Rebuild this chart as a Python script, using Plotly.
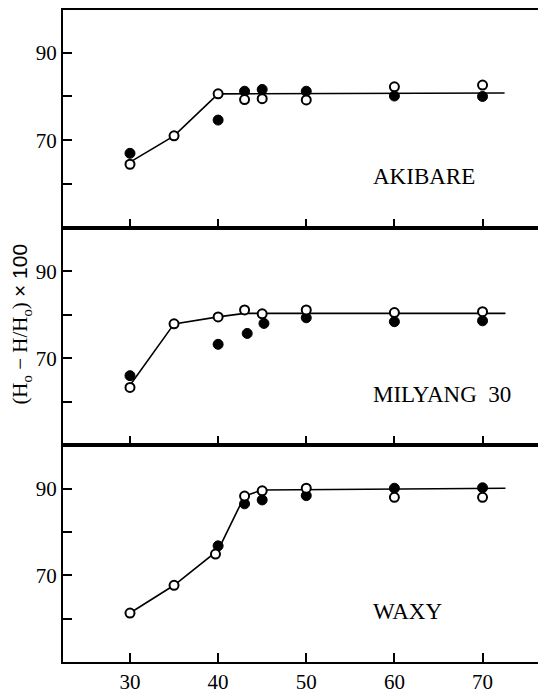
import plotly.graph_objects as go

# ---- data ----
ak_x_open = [30, 35, 40, 43, 45, 50, 60, 70]
ak_y_open = [64.5, 71.0, 80.6, 79.3, 79.5, 79.2, 82.2, 82.6]
ak_x_fill = [30, 40, 43, 45, 50, 60, 70]
ak_y_fill = [67.0, 74.6, 81.2, 81.6, 81.2, 80.1, 80.0]
ak_line_x = [30, 35, 40, 72.5]
ak_line_y = [65.0, 71.0, 80.6, 80.8]

mi_x_open = [30, 35, 40, 43, 45, 50, 60, 70]
mi_y_open = [63.3, 77.9, 79.5, 81.1, 80.2, 81.1, 80.5, 80.7]
mi_x_fill = [30, 40, 43.3, 45.2, 50, 60, 70]
mi_y_fill = [66.0, 73.2, 75.7, 78.0, 79.3, 78.4, 78.6]
mi_line_x = [30, 35, 40, 43, 72.6]
mi_line_y = [63.8, 77.9, 79.5, 80.3, 80.3]

wx_x_open = [30, 35, 39.7, 43, 45, 50, 60, 70]
wx_y_open = [61.3, 67.7, 74.9, 88.3, 89.5, 90.1, 88.0, 88.0]
wx_x_fill = [40, 43, 45, 50, 60, 70]
wx_y_fill = [76.8, 86.5, 87.4, 88.4, 90.1, 90.2]
wx_line_x = [30, 35, 40, 43, 45, 72.6]
wx_line_y = [61.3, 67.7, 75.8, 88.3, 89.7, 90.1]

panel_names = ["AKIBARE", "MILYANG\u00a0\u00a030", "WAXY"]
x_ticks = [30, 40, 50, 60, 70]
y_major = [70, 90]
y_minor = [60, 80]

FONT = "Liberation Serif, Times New Roman, serif"

# page body has an 8px margin; compensate so plot sits where the reference does
OFF = 8
W, HT = 546 - OFF, 694 - OFF
L, T, B = 63 - OFF, 1, HT - (668 - OFF)

fig = go.Figure()

panels = [
    (ak_x_open, ak_y_open, ak_x_fill, ak_y_fill, ak_line_x, ak_line_y),
    (mi_x_open, mi_y_open, mi_x_fill, mi_y_fill, mi_line_x, mi_line_y),
    (wx_x_open, wx_y_open, wx_x_fill, wx_y_fill, wx_line_x, wx_line_y),
]

H = 668.0 - (OFF + T)
bounds = [(OFF + T, 229), (229, 449), (449, 668)]
domains = [((668 - b) / H, min(1, (668 - t) / H)) for t, b in bounds]

for i, (xo, yo, xf, yf, lx, ly) in enumerate(panels):
    n = i + 1
    xa = "x" if n == 1 else f"x{n}"
    ya = "y" if n == 1 else f"y{n}"
    fig.add_trace(go.Scatter(x=lx, y=ly, mode="lines", xaxis=xa, yaxis=ya,
                             line=dict(color="black", width=1.6), showlegend=False,
                             hoverinfo="skip"))
    fig.add_trace(go.Scatter(x=xf, y=yf, mode="markers", xaxis=xa, yaxis=ya,
                             marker=dict(symbol="circle", size=10, color="black",
                                         line=dict(color="black", width=1)),
                             showlegend=False))
    fig.add_trace(go.Scatter(x=xo, y=yo, mode="markers", xaxis=xa, yaxis=ya,
                             marker=dict(symbol="circle", size=9, color="white",
                                         line=dict(color="black", width=2)),
                             showlegend=False))
    xkey = "xaxis" if n == 1 else f"xaxis{n}"
    ykey = "yaxis" if n == 1 else f"yaxis{n}"
    fig.update_layout({
        xkey: dict(range=[22.4, 77.2], anchor=ya, domain=[0, 1],
                   tickvals=x_ticks, ticks="inside", ticklen=9, tickwidth=2,
                   tickcolor="black", showline=True, linecolor="black",
                   linewidth=2, mirror=True, showgrid=False, zeroline=False,
                   showticklabels=(n == 3),
                   tickfont=dict(family=FONT, size=21, color="black")),
        ykey: dict(range=[50, 100 - (1.0 / 4.4 if n == 1 else 0)], anchor=xa,
                   domain=list(domains[i]),
                   tickvals=y_major, ticks="inside",
                   ticklen=9, tickwidth=2, tickcolor="black", showline=True,
                   linecolor="black", linewidth=2, showgrid=False,
                   zeroline=False,
                   minor=dict(tickvals=y_minor, ticks="inside", ticklen=9,
                              tickwidth=2, tickcolor="black", showgrid=False),
                   tickfont=dict(family=FONT, size=21, color="black")),
    })
    fig.add_annotation(x=57.3, y=61.6, xref=xa, yref=ya, text=panel_names[i],
                       showarrow=False, xanchor="left", yanchor="middle",
                       font=dict(family=FONT, size=23, color="black"))

title = ("(H<sub>o</sub>\u00a0\u2212\u00a0H/H<sub>o</sub>)\u00a0"
         "<span style='font-family:Liberation Sans, Arial, sans-serif'>\u00d7\u00a0100</span>")
fig.add_annotation(x=-(63 - 21) / (546.0 - 63), y=(668 - 327) / H,
                   xref="paper", yref="paper", text=title,
                   textangle=-90, showarrow=False, xanchor="center",
                   yanchor="middle",
                   font=dict(family=FONT, size=21, color="black"))

fig.update_layout(width=W, height=HT,
                  margin=dict(l=L, r=0, t=T, b=B),
                  paper_bgcolor="white", plot_bgcolor="white")

fig.write_html("out.html")
